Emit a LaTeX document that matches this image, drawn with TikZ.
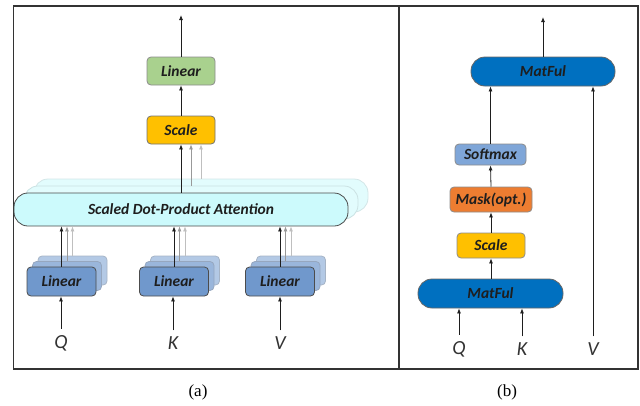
\documentclass[tikz,border=0pt]{standalone}
\usepackage{fontspec}
\setmainfont{Liberation Serif}
\newfontfamily\boxfont{Carlito}
\usetikzlibrary{arrows.meta}

\definecolor{lingreen}{HTML}{A9D18E}
\definecolor{scaleyel}{HTML}{FFC000}
\definecolor{attcyan}{HTML}{CCFAFC}
\definecolor{attback}{HTML}{E2FCFD}
\definecolor{linblue}{HTML}{7098CC}
\definecolor{linblueB}{HTML}{9AB6DB}
\definecolor{linblueC}{HTML}{B3C9E5}
\definecolor{matblue}{HTML}{0070C0}
\definecolor{softblue}{HTML}{7FA6D8}
\definecolor{maskorange}{HTML}{ED7D31}
\definecolor{inkdark}{HTML}{1E1E1E}

\tikzset{
  blk/.style={rounded corners=4pt, inner sep=0pt, line width=0.8pt,
    font=\boxfont\bfseries\itshape\fontsize{15.5}{17}\selectfont, text=inkdark},
  pill/.style={blk, rounded corners=14pt},
  arr/.style={-{Latex[length=5pt,width=4pt]}, line width=0.8pt, inkdark},
  garrA/.style={arr, draw=black!40, -{Latex[length=5pt,width=4pt,fill=black!40]}},
  garrB/.style={arr, draw=black!25, -{Latex[length=5pt,width=4pt,fill=black!25]}},
  inlab/.style={font=\boxfont\itshape\fontsize{20}{22}\selectfont, text=black!80, inner sep=0pt},
  caption/.style={font=\fontsize{17}{19}\selectfont, inner sep=0pt},
  frame/.style={draw=black!80, line width=1.5pt},
}

\begin{document}
\begin{tikzpicture}[x=1pt,y=-1pt]
\useasboundingbox (0,0) rectangle (640,405);

% panel frames
\draw[frame] (13.5,6) rectangle (399,369);
\draw[frame] (399,6) rectangle (638,369);
\node[caption] (capa) at (198,392) {(a)};
\node[caption] (capb) at (507,392) {(b)};

% ---------------- multi-head attention ----------------
\node[blk, fill=lingreen, draw=black!45, minimum width=68pt, minimum height=28pt] (lin) at (181,71) {Linear};
\node[blk, fill=scaleyel, draw=black!55, minimum width=68pt, minimum height=28pt] (scA) at (181,130) {Scale};

% stacked attention heads
\node[pill, fill=attback, draw=attcyan!70!gray!60, minimum width=334pt, minimum height=33pt] (sd3) at (201,195.5) {};
\node[pill, fill=attback, draw=attcyan!70!gray!70, minimum width=334pt, minimum height=33pt] (sd2) at (191,202.5) {};
\node[pill, fill=attcyan, draw=black!70, minimum width=334pt, minimum height=33pt] (sdpa) at (181,209.5) {Scaled Dot-Product Attention};

% stacked linear projections
\foreach \n/\x in {q/61.5, k/174, v/280}{
  \node[blk, fill=linblueC, draw=linblueC!80!black!80, minimum width=69pt, minimum height=29pt] (\n3) at (\x+11,270.5) {};
  \node[blk, fill=linblueB, draw=linblueB!80!black!80, minimum width=69pt, minimum height=29pt] (\n2) at (\x+5.5,276) {};
  \node[blk, fill=linblue, draw=black!70, minimum width=69pt, minimum height=29pt] (\n1) at (\x,281.5) {Linear};
}

\node[inlab] (qa) at (61,343) {Q};
\node[inlab] (ka) at (173,343) {K};
\node[inlab] (va) at (280,343) {V};

\coordinate (outa) at (181,15);

\foreach \n in {q,k,v}{
  \draw[garrB] (\n3.north) -- (\n3.north |- sdpa.south);
  \draw[garrA] (\n2.north) -- (\n2.north |- sdpa.south);
  \draw[arr] (\n1.north) -- (\n1.north |- sdpa.south);
}
\foreach \n in {q,k,v}{
  \draw[arr] ([yshift=6pt]\n a.north) -- (\n a.north |- \n1.south);
}
\draw[garrB] (sd3.north) -- (sd3.north |- scA.south);
\draw[garrA] (sd2.north) -- (sd2.north |- scA.south);
\draw[arr] (sdpa.north) -- (scA.south);
\draw[arr] (scA.north) -- (lin.south);
\draw[arr] (lin.north) -- (outa);

% ---------------- scaled dot-product attention ----------------
\node[pill, fill=matblue, draw=black!60, minimum width=144pt, minimum height=29pt] (mmt) at (543,71.5) {MatFul};
\node[blk, fill=softblue, draw=black!45, minimum width=71pt, minimum height=21pt] (soft) at (490.5,154.5) {Softmax};
\node[blk, fill=maskorange, draw=black!45, minimum width=82pt, minimum height=25pt] (mask) at (491,199.5) {Mask(opt.)};
\node[blk, fill=scaleyel, draw=black!45, minimum width=68pt, minimum height=25pt] (scB) at (491,245.5) {Scale};
\node[pill, fill=matblue, draw=black!60, minimum width=145pt, minimum height=29pt] (mmb) at (490.5,293.5) {MatFul};

\node[inlab] (qb) at (459,349) {Q};
\node[inlab] (kb) at (522,349) {K};
\node[inlab] (vb) at (593,349) {V};

\coordinate (outb) at (543,17);

\draw[arr] ([yshift=6pt]qb.north) -- (qb.north |- mmb.south);
\draw[arr] ([yshift=6pt]kb.north) -- (kb.north |- mmb.south);
\draw[arr] ([yshift=6pt]vb.north) -- (vb.north |- mmt.south);
\draw[arr] (mmb.north -| scB.south) -- (scB.south);
\draw[arr] (scB.north) -- (mask.south);
\draw[arr] (mask.north) -- (soft.south);
\draw[arr] (soft.north) -- (soft.north |- mmt.south);
\draw[arr] (mmt.north) -- (outb);
\end{tikzpicture}
\end{document}
